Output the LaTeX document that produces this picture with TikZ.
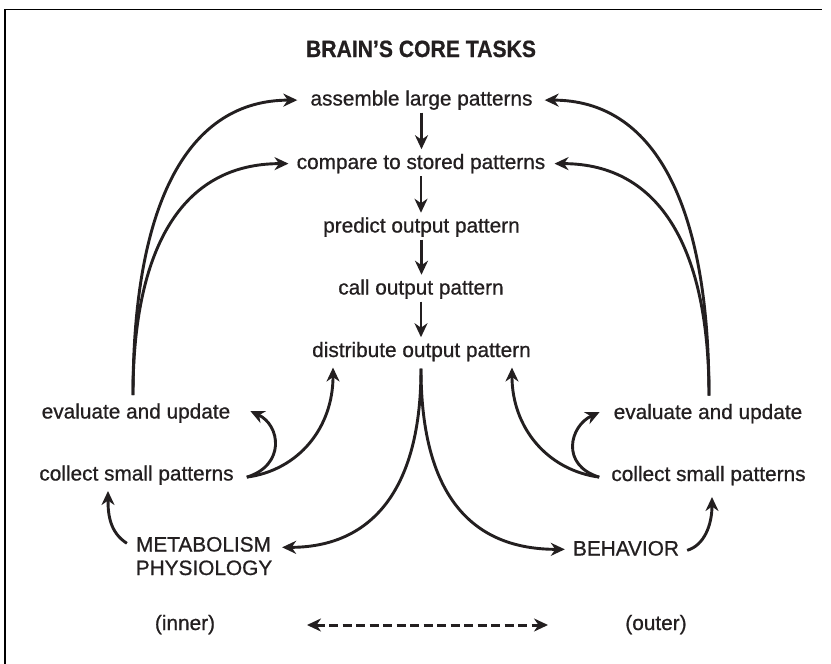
\documentclass[tikz,border=0pt]{standalone}
\usepackage{fontspec}
\setmainfont[FakeBold=0.75]{Liberation Sans}
\usetikzlibrary{arrows.meta}
\definecolor{ink}{HTML}{231F20}
\tikzset{
  txt/.style={font=\fontsize{20.8}{25}\selectfont, inner sep=0pt, anchor=base, text=ink},
  arr/.style={line width=2.9pt, draw=ink, -{Stealth[length=14pt,width=13pt,inset=4.5pt]}},
  dasharr/.style={line width=3pt, draw=ink, dash pattern=on 9pt off 4.5pt,
    {Stealth[length=14pt,width=13pt,inset=4.5pt]}-{Stealth[length=14pt,width=13pt,inset=4.5pt]}},
  framel/.style={line width=1.6pt, draw=black}
}
\begin{document}
\begin{tikzpicture}[x=1pt,y=-1pt]
\useasboundingbox (0,0) rectangle (831,664);
\fill[white] (0,0) rectangle (831,664);
% frame
\draw[framel] (4,9.5) -- (822,9.5);
\draw[framel] (5,9.5) -- (5,664);

% title
\node[txt, font=\bfseries\fontsize{23.5}{27}\selectfont] (title) at (421,57) {\scalebox{0.9}[1]{BRAIN’S CORE TASKS}};

% central column
\node[txt] (a) at (421.5,105.5) {assemble large patterns};
\node[txt] (c) at (421,169) {compare to stored patterns};
\node[txt] (p) at (421.5,232.5) {predict output pattern};
\node[txt] (o) at (421,294.5) {call output pattern};
\node[txt] (d) at (421.5,357) {distribute output pattern};

% left side
\node[txt] (eL) at (136,418.5) {evaluate and update};
\node[txt] (cL) at (136.5,480.5) {collect small patterns};
\node[txt] (mA) at (203.5,551.5) {METABOLISM};
\node[txt] (mB) at (204,575) {PHYSIOLOGY};
\node[txt] (inner) at (185,630) {(inner)};

% right side
\node[txt] (eR) at (708,419) {evaluate and update};
\node[txt] (cR) at (708.5,481) {collect small patterns};
\node[txt] (beh) at (626,555.5) {BEHAVIOR};
\node[txt] (outer) at (656,630) {(outer)};

\coordinate (dl) at (307,625);
\coordinate (dr) at (548,625);

% vertical chain
\draw[arr, shorten <=2.5pt, shorten >=4.5pt] (a.south) -- (a.south |- c.north);
\draw[arr, shorten <=2.5pt, shorten >=4.5pt] (c.south) -- (c.south |- p.north);
\draw[arr, shorten <=2.5pt, shorten >=4.5pt] (p.south) -- (p.south |- o.north);
\draw[arr, shorten <=2.5pt, shorten >=4.5pt] (o.south) -- (o.south |- d.north);

% big left curves
\draw[arr] ([xshift=-3pt,yshift=8pt]eL.north) .. controls +(0,-195) and +(-108,0) .. ([xshift=-13pt]a.west);
\draw[arr] ([xshift=-3pt,yshift=8pt]eL.north) .. controls +(0,-145) and +(-108,0) .. ([xshift=-8pt]c.west);
% big right curves
\draw[arr] ([xshift=1pt,yshift=8pt]eR.north) .. controls +(0,-195) and +(108,0) .. ([xshift=12pt]a.east);
\draw[arr] ([xshift=1pt,yshift=8pt]eR.north) .. controls +(0,-145) and +(107,0) .. ([xshift=9pt]c.east);

% left small loops
\draw[arr] ([xshift=13pt,yshift=-2pt]cL.east) .. controls +(39,-12) and +(30,14) .. ([xshift=20pt,yshift=2pt]eL.east);
\draw[arr] ([xshift=13pt,yshift=-2pt]cL.east) .. controls +(52,-7) and +(0,60) .. ([xshift=21pt,yshift=-6pt]d.south west);
% right small loops
\draw[arr] ([xshift=-12pt,yshift=-1.5pt]cR.west) .. controls +(-39,-12) and +(-30,14) .. ([xshift=-14pt,yshift=1.5pt]eR.west);
\draw[arr] ([xshift=-12pt,yshift=-1.5pt]cR.west) .. controls +(-52,-7) and +(0,60) .. ([xshift=-19pt,yshift=-6pt]d.south east);

% trunk from distribute
\draw[arr] ([xshift=-0.5pt,yshift=-7pt]d.south) .. controls +(0,132) and +(81,0) .. ([xshift=11pt,yshift=-3pt]mA.east);
\draw[arr] ([xshift=-0.5pt,yshift=-7pt]d.south) .. controls +(0,132) and +(-89,0) .. ([xshift=-8pt,yshift=-1pt]beh.west);

% bottom to collect
\draw[arr] ([xshift=-9pt,yshift=1pt]mA.west) .. controls +(-17,-11) and +(0,24) .. ([xshift=-28.5pt,yshift=-6pt]cL.south);
\draw[arr] ([xshift=8pt,yshift=-2pt]beh.east) .. controls +(17,-5) and +(0,28) .. ([xshift=3.5pt,yshift=-11.5pt]cR.south);

% dashed
\draw[dasharr] (dl) -- (dr);
\end{tikzpicture}
\end{document}
